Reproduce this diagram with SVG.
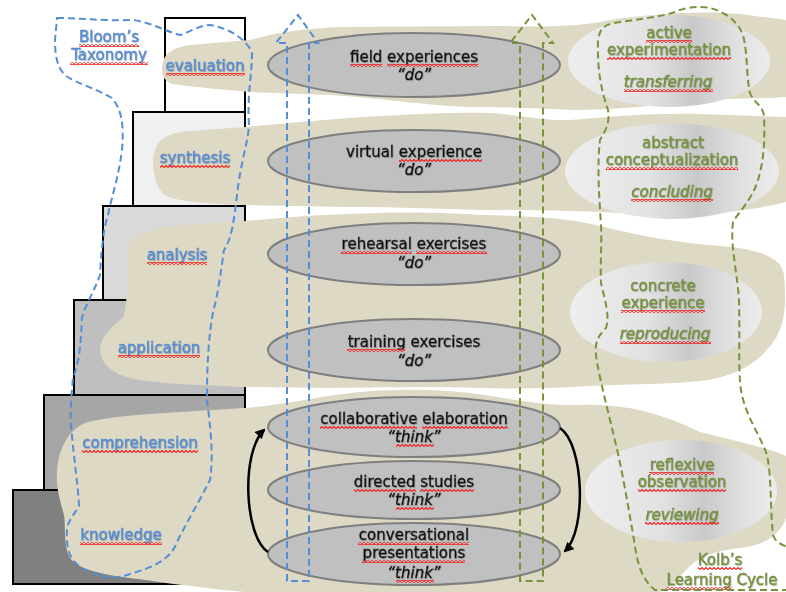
<svg xmlns="http://www.w3.org/2000/svg" width="786" height="592" viewBox="0 0 786 592">
  <defs>
    <style>
      .step { stroke: #000; stroke-width: 2; }
      .band { fill: #ddd9c4; }
      .act { fill: #c0c0c0; stroke: #7f7f7f; stroke-width: 2; }
      .kolb { fill: url(#kolbShade); stroke: none; }
      .t { font-family: "DejaVu Sans", "Liberation Sans", sans-serif; font-size: 15px; text-anchor: middle; stroke-width: 0.35; }
      .dark { fill: #111; stroke: #111; filter: url(#textShadow); }
      .blue { fill: #558ed5; stroke: #558ed5; filter: url(#textShadow); }
      .green { fill: #77933c; stroke: #77933c; filter: url(#textShadow); }
      .it { font-style: italic; }
      .wave { fill: url(#squiggle); }
      .bluedash { fill: none; stroke: #558ed5; stroke-width: 2; stroke-dasharray: 7 4; }
      .greendash { fill: none; stroke: #77933c; stroke-width: 2; stroke-dasharray: 7 4; }
      .cycle { fill: none; stroke: #000; stroke-width: 2.5; marker-end: url(#head); }
    </style>
    <pattern id="squiggle" patternUnits="userSpaceOnUse" width="4" height="3">
      <polyline points="0,2.5 2,0.5 4,2.5" fill="none" stroke="#f0201c" stroke-width="1.1"/>
    </pattern>
    <linearGradient id="kolbShade" x1="0" y1="0" x2="1" y2="0">
      <stop offset="0" stop-color="#eeeeee"/>
      <stop offset="0.4" stop-color="#e2e2e2"/>
      <stop offset="0.62" stop-color="#c9c9c9"/>
      <stop offset="0.82" stop-color="#e0e0e0"/>
      <stop offset="1" stop-color="#ececec"/>
    </linearGradient>
    <filter id="textShadow" x="-10%" y="-30%" width="120%" height="160%">
      <feDropShadow dx="0.6" dy="0.6" stdDeviation="0.35" flood-color="#666" flood-opacity="0.55"/>
    </filter>
    <marker id="head" viewBox="0 0 10 10" refX="8" refY="5" markerWidth="4" markerHeight="4" orient="auto">
      <path d="M0,0 L10,5 L0,10 Z" fill="#000"/>
    </marker>
  </defs>

  <rect width="786" height="592" fill="#fff"/>

  <!-- Bloom's staircase -->
  <g id="staircase">
    <rect class="step" x="13" y="490" width="232" height="94" fill="#808080"/>
    <rect class="step" x="44" y="395" width="201" height="95" fill="#a6a6a6"/>
    <rect class="step" x="74" y="300" width="171" height="95" fill="#bfbfbf"/>
    <rect class="step" x="103" y="206" width="142" height="94" fill="#d9d9d9"/>
    <rect class="step" x="133" y="112" width="112" height="94" fill="#f0f0f0"/>
    <rect class="step" x="165" y="18" width="80" height="94" fill="#fff"/>
  </g>

  <!-- hand-drawn background bands -->
  <g id="bands">
    <path class="band" d="M162,70 C162,55 170,48 190,45 L250,40 C280,32 300,29 340,27 L500,26 C540,27 580,27 610,20 C650,14 700,10 740,14 L786,20 L786,97 C760,99 720,98 690,102 C650,106 610,110 575,110 C540,108 500,107 470,107 C430,106 390,99 330,95 L250,92 C220,89 190,87 172,84 C165,81 162,76 162,70 Z"/>
    <path class="band" d="M153,162 C154,140 165,133 190,131 L245,127 C290,123 330,119 380,116 C420,114 460,112 490,113 C520,115 545,121 570,120 C610,117 650,113 700,114 L786,117 L786,202 C770,206 740,212 700,214 L620,213 C580,211 540,210 480,210 C440,209 400,207 350,207 L245,205 C210,204 180,202 166,196 C157,189 153,176 153,162 Z"/>
    <path class="band" d="M128,248 C130,235 150,228 180,225 L245,221 C290,217 330,214 380,213 C420,212 450,213 480,215 C520,216 560,216 600,226 C640,236 680,243 720,246 C760,249 782,258 784,275 C786,300 786,320 776,338 C762,360 740,376 700,381 C660,385 620,384 590,386 C560,388 520,389 480,388 C420,386 370,388 330,388 L245,387 C200,385 160,384 135,379 C112,375 100,362 100,350 C100,336 114,326 124,316 C128,300 127,270 128,248 Z"/>
    <path class="band" d="M57,472 C58,450 68,430 85,423 C110,415 180,412 245,408 C290,404 320,396 360,392 C400,389 430,389 470,393 C510,398 540,406 580,405 C620,403 660,412 700,432 C730,440 760,445 786,456 L786,518 C780,535 765,545 740,548 C715,551 700,556 688,568 C678,578 670,588 660,592 L245,592 C200,588 160,582 130,578 C100,574 80,570 70,558 C63,545 66,528 64,515 C60,500 56,488 57,472 Z"/>
  </g>

  <!-- learning activities -->
  <g id="field-experiences">
    <ellipse class="act" cx="414" cy="65" rx="146" ry="32"/>
    <text class="t dark" x="414" y="62">field experiences</text>
    <text class="t dark it" x="414" y="80">“do”</text>
    <rect class="wave" x="350" y="64" width="32" height="3"/>
    <rect class="wave" x="387" y="64" width="91" height="3"/>
  </g>
  <g id="virtual-experience">
    <ellipse class="act" cx="414" cy="161" rx="146" ry="31"/>
    <text class="t dark" x="414" y="157">virtual experience</text>
    <text class="t dark it" x="414" y="175">“do”</text>
    <rect class="wave" x="399" y="159" width="83" height="3"/>
  </g>
  <g id="rehearsal-exercises">
    <ellipse class="act" cx="414" cy="254" rx="146" ry="31"/>
    <text class="t dark" x="414" y="249">rehearsal exercises</text>
    <text class="t dark it" x="414" y="268">“do”</text>
    <rect class="wave" x="341" y="251" width="71" height="3"/>
    <rect class="wave" x="416" y="251" width="71" height="3"/>
  </g>
  <g id="training-exercises">
    <ellipse class="act" cx="414" cy="350" rx="146" ry="31"/>
    <text class="t dark" x="414" y="347">training exercises</text>
    <text class="t dark it" x="414" y="366">“do”</text>
    <rect class="wave" x="347" y="349" width="58" height="3"/>
  </g>
  <g id="collaborative-elaboration">
    <ellipse class="act" cx="414" cy="427" rx="146" ry="30"/>
    <text class="t dark" x="414" y="424">collaborative elaboration</text>
    <text class="t dark it" x="414" y="442">“think”</text>
    <rect class="wave" x="320" y="426" width="97" height="3"/>
    <rect class="wave" x="422" y="426" width="86" height="3"/>
    <rect class="wave" x="396" y="444" width="38" height="3"/>
  </g>
  <g id="directed-studies">
    <ellipse class="act" cx="414" cy="490" rx="146" ry="29"/>
    <text class="t dark" x="414" y="487">directed studies</text>
    <text class="t dark it" x="414" y="505">“think”</text>
    <rect class="wave" x="354" y="489" width="62" height="3"/>
    <rect class="wave" x="420" y="489" width="54" height="3"/>
    <rect class="wave" x="396" y="507" width="38" height="3"/>
  </g>
  <g id="conversational-presentations">
    <ellipse class="act" cx="414" cy="554" rx="146" ry="31"/>
    <text class="t dark" x="414" y="540">conversational</text>
    <text class="t dark" x="414" y="558">presentations</text>
    <text class="t dark it" x="414" y="578">“think”</text>
    <rect class="wave" x="358" y="542" width="111" height="3"/>
    <rect class="wave" x="362" y="560" width="103" height="3"/>
    <rect class="wave" x="396" y="580" width="38" height="3"/>
  </g>

  <!-- Kolb stages -->
  <g id="active-experimentation">
    <ellipse class="kolb" cx="669" cy="61" rx="101" ry="46"/>
    <text class="t green" x="669" y="38">active</text>
    <text class="t green" x="669" y="55">experimentation</text>
    <text class="t green it" x="668" y="87">transferring</text>
    <rect class="wave" x="646" y="40" width="46" height="3"/>
    <rect class="wave" x="607" y="57" width="124" height="3"/>
    <rect class="wave" x="624" y="89" width="89" height="3"/>
  </g>
  <g id="abstract-conceptualization">
    <ellipse class="kolb" cx="672" cy="171" rx="107" ry="48"/>
    <text class="t green" x="673" y="148">abstract</text>
    <text class="t green" x="672" y="165">conceptualization</text>
    <text class="t green it" x="672" y="197">concluding</text>
    <rect class="wave" x="606" y="167" width="132" height="3"/>
    <rect class="wave" x="631" y="199" width="82" height="3"/>
  </g>
  <g id="concrete-experience">
    <ellipse class="kolb" cx="666" cy="312" rx="96" ry="50"/>
    <text class="t green" x="663" y="291">concrete</text>
    <text class="t green" x="663" y="308">experience</text>
    <text class="t green it" x="665" y="339">reproducing</text>
    <rect class="wave" x="621" y="310" width="84" height="3"/>
    <rect class="wave" x="620" y="341" width="91" height="3"/>
  </g>
  <g id="reflexive-observation">
    <ellipse class="kolb" cx="681" cy="491" rx="96" ry="51"/>
    <text class="t green" x="682" y="470">reflexive</text>
    <text class="t green" x="682" y="487">observation</text>
    <text class="t green it" x="682" y="520">reviewing</text>
    <rect class="wave" x="649" y="472" width="65" height="3"/>
    <rect class="wave" x="638" y="489" width="88" height="3"/>
    <rect class="wave" x="645" y="522" width="74" height="3"/>
  </g>

  <!-- Bloom's levels -->
  <g id="bloom-labels">
    <text class="t blue" x="109" y="42">Bloom’s</text>
    <text class="t blue" x="109" y="60">Taxonomy</text>
    <rect class="wave" x="79" y="44" width="60" height="3"/>
    <rect class="wave" x="70" y="62" width="78" height="3"/>
  </g>
  <g id="evaluation">
    <text class="t blue" x="205" y="71">evaluation</text>
    <rect class="wave" x="166" y="73" width="79" height="3"/>
  </g>
  <g id="synthesis">
    <text class="t blue" x="195" y="163">synthesis</text>
    <rect class="wave" x="160" y="165" width="70" height="3"/>
  </g>
  <g id="analysis">
    <text class="t blue" x="177" y="260">analysis</text>
    <rect class="wave" x="147" y="262" width="60" height="3"/>
  </g>
  <g id="application">
    <text class="t blue" x="159" y="353">application</text>
    <rect class="wave" x="118" y="355" width="82" height="3"/>
  </g>
  <g id="comprehension">
    <text class="t blue" x="140" y="448">comprehension</text>
    <rect class="wave" x="82" y="450" width="116" height="3"/>
  </g>
  <g id="knowledge">
    <text class="t blue" x="121" y="540">knowledge</text>
    <rect class="wave" x="80" y="542" width="82" height="3"/>
  </g>

  <g id="kolb-title">
    <text class="t green" x="720" y="565">Kolb’s</text>
    <text class="t green" x="722" y="585">Learning Cycle</text>
    <rect class="wave" x="698" y="567" width="44" height="3"/>
    <rect class="wave" x="666" y="587" width="66" height="3"/>
  </g>

  <!-- outlines and connectors -->
  <g id="connectors">
    <path class="bluedash" d="M287,581 L287,43 L276,43 L298,15 L318,43 L309,43 L309,581 Z"/>
    <path class="greendash" d="M520,581 L520,43 L510,43 L532,15 L553,43 L543,43 L543,581 Z"/>
    <path class="bluedash" d="M57,18 C80,18 100,21 133,20 C150,22 165,31 180,35 C190,32 200,25 210,25 C228,28 245,38 252,52 C252,75 247,95 249,125 C248,143 241,160 237,195 C234,220 232,238 224,250 C221,270 218,295 213,312 C208,340 207,370 207,400 C210,425 214,455 210,480 C200,500 188,520 178,540 C170,562 150,568 130,574 C115,580 100,578 82,568 C68,560 66,545 67,530 C68,520 74,515 79,506 C78,485 74,460 71,425 C70,405 72,390 73,378 C80,360 81,340 82,318 C85,305 95,290 100,275 C101,255 103,230 108,215 C112,195 118,180 122,150 C124,125 122,110 112,98 C95,88 78,84 66,76 C57,68 55,55 55,40 Z"/>
    <path class="greendash" d="M800,590 L655,590 C640,578 637,560 634,540 C628,505 622,470 616,445 C609,415 601,385 597,362 C594,345 596,338 606,328 C610,316 605,300 601,283 C600,265 602,245 601,225 C599,195 597,165 600,140 C606,130 610,122 608,110 C603,95 597,75 598,40 C600,28 604,24 620,22 C640,19 660,17 675,12 C685,7 700,6 710,8 C725,12 737,20 743,35 C748,55 746,75 750,93 C754,103 762,105 764,115 C765,140 764,160 758,180 C752,200 740,210 733,222 C730,245 737,270 739,300 C740,340 738,370 741,390 C745,415 760,435 767,455 C772,480 770,510 773,535 C776,543 781,545 800,552"/>
    <path class="cycle" d="M268,552 C244,536 241,452 264,430"/>
    <path class="cycle" d="M560,428 C584,444 587,530 565,551"/>
  </g>
</svg>
